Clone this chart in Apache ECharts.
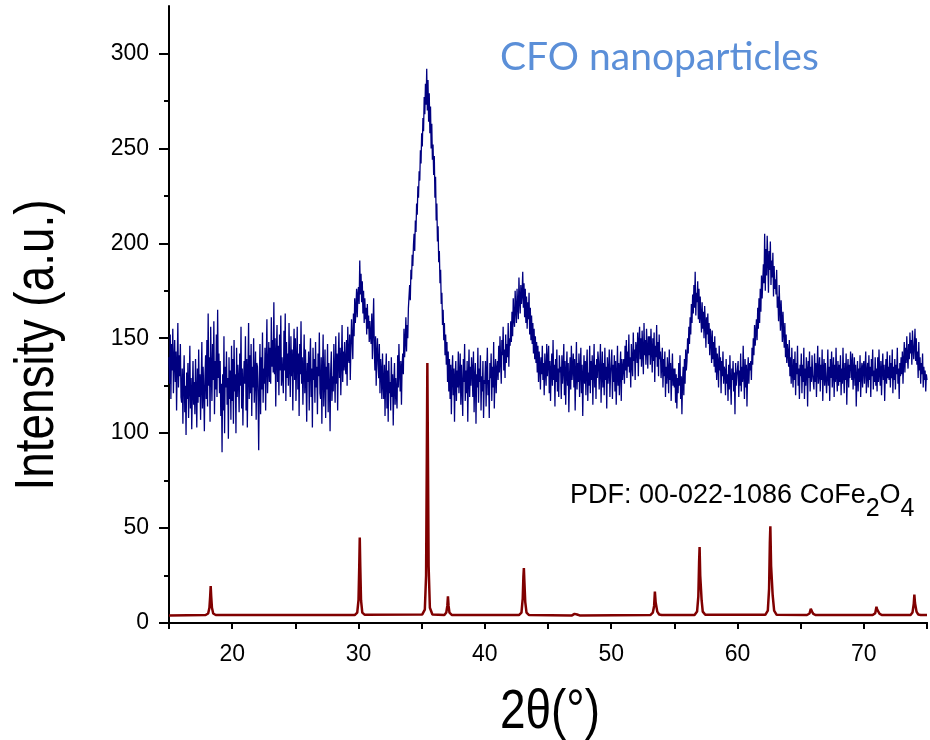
<!DOCTYPE html>
<html><head><meta charset="utf-8">
<script src="https://cdn.jsdelivr.net/npm/echarts@6/dist/echarts.min.js"></script>
<style>html,body{margin:0;padding:0;background:#fff}#c{width:930px;height:740px}</style>
</head><body><div id="c"></div>
<script>
// ---- data ----
const scanStart = 15;      // 2theta of first point
const scanStep = 0.05;     // 2theta step of measured scan
const cfoIntensity = [
140,126,152,118,147,133,155,121,138,149,127,143,112,136,158,124,141,130,147,119,
116,134,105,128,141,111,125,99,132,118,137,108,124,146,113,129,102,121,138,115,
127,110,139,121,103,134,116,144,119,131,107,126,148,113,135,122,101,130,141,118,
149,114,163,125,140,106,156,131,117,147,128,159,110,138,123,152,119,165,129,142,
121,138,109,126,90,131,112,151,100,135,124,143,115,129,97,140,118,133,107,146,
117,139,105,149,122,131,100,145,119,136,128,111,142,125,156,113,134,104,127,138,
126,151,112,139,103,132,158,118,141,121,147,109,135,124,150,116,129,143,107,137,
135,119,91,128,147,110,140,123,153,116,134,126,145,112,138,160,121,133,148,127,
145,126,161,135,149,132,169,131,150,114,141,157,127,146,120,152,133,162,125,140,
139,121,154,133,163,117,148,129,142,125,158,136,119,151,130,144,112,139,155,128,
150,117,138,156,123,142,109,147,131,159,126,140,115,133,152,121,144,129,106,137,
127,143,112,137,150,119,134,103,145,128,139,116,148,124,135,110,142,130,153,121,
118,140,105,132,152,114,129,144,108,135,123,147,111,137,126,101,133,143,117,130,
122,147,131,116,151,126,142,112,139,153,129,145,120,138,157,127,143,133,148,136,
131,149,125,156,140,137,152,128,146,160,149,139,163,151,171,158,166,176,161,173,
177,168,191,173,184,169,180,163,175,158,171,160,166,152,168,155,162,148,159,151,
147,163,139,156,171,144,133,151,125,142,150,136,129,147,121,139,133,118,142,126,
118,136,109,130,142,113,133,106,138,121,127,112,140,119,131,104,126,137,115,129,
130,113,141,124,147,132,122,138,115,135,142,131,155,140,148,161,143,157,150,166,
165,178,170,186,181,194,188,199,205,196,212,206,221,215,230,224,238,233,249,242,
258,251,266,259,277,268,284,273,292,270,286,264,279,258,272,250,263,244,252,236,
246,224,235,212,221,201,209,190,196,179,186,168,174,157,165,149,158,141,152,136,
148,127,143,122,139,118,136,110,131,141,120,134,106,129,138,117,133,124,143,121,
129,142,115,136,124,109,139,127,147,117,133,121,138,106,130,144,119,135,125,140,
133,119,143,111,129,137,105,131,124,145,116,134,127,141,112,130,122,138,108,128,
126,138,114,132,145,120,128,108,137,129,142,117,135,124,148,113,131,139,121,134,
138,128,146,132,151,138,126,149,141,156,133,144,129,152,137,147,140,158,135,150,
146,159,148,164,151,171,160,156,175,165,158,176,167,160,182,170,163,178,168,173,
185,166,179,161,176,158,172,155,169,160,174,152,166,149,162,147,158,142,155,139,
151,137,148,132,146,127,143,136,123,140,131,146,128,137,120,142,133,125,147,130,
130,146,121,138,117,133,142,125,149,128,136,114,139,127,144,122,134,119,141,132,
135,118,141,126,134,147,120,138,115,132,143,125,137,111,129,140,123,146,128,134,
142,124,139,112,131,148,123,137,127,142,119,133,145,121,136,109,130,141,126,138,
120,135,144,117,132,125,146,121,138,128,141,115,133,147,124,136,118,139,129,143,
138,123,134,147,116,131,143,124,137,120,145,128,135,113,140,126,132,144,119,131,
132,144,118,136,127,141,122,138,115,130,146,125,137,120,134,143,117,139,128,135,
139,126,146,133,149,129,143,135,152,132,140,124,147,137,130,153,138,144,128,148,
145,137,153,130,148,156,139,150,135,154,143,131,158,141,149,136,155,144,134,151,
141,151,136,155,144,132,150,138,153,127,146,140,157,135,148,130,152,139,143,129,
136,145,124,139,130,143,119,135,126,140,133,121,144,128,137,117,131,142,125,134,
124,134,116,131,113,129,121,137,125,141,118,130,110,127,135,120,139,126,144,133,
138,150,142,156,147,161,152,168,158,173,163,178,166,185,162,174,169,180,160,176,
158,172,162,153,169,155,164,150,167,158,145,161,152,163,147,158,141,155,149,137,
154,139,148,135,151,132,145,128,142,137,124,146,133,140,121,138,130,143,126,135,
133,120,139,126,131,117,136,123,141,127,115,134,128,138,122,132,110,137,125,130,
129,138,119,133,125,142,122,135,127,146,131,118,139,124,136,114,132,140,126,137,
133,138,128,145,136,150,141,157,146,153,160,149,166,155,171,158,176,164,183,171,
170,189,179,205,175,197,183,204,192,174,196,186,201,178,191,182,195,172,188,176,
181,173,186,166,172,159,178,165,154,170,160,148,164,153,145,158,140,152,137,147,
142,135,149,130,140,126,145,132,124,139,128,143,120,137,131,146,125,134,118,136,
130,142,121,136,127,145,118,134,125,140,133,114,138,129,143,122,135,127,141,131,
132,123,142,127,137,119,134,146,126,131,140,122,136,128,144,117,133,139,125,137,
137,121,130,144,125,135,117,139,129,143,124,132,140,119,136,127,145,130,122,138,
125,136,127,141,120,134,126,145,130,121,137,128,142,115,133,139,124,136,129,143,
136,128,142,123,133,140,125,136,114,130,138,122,134,127,141,119,132,137,124,135,
138,126,134,143,121,132,137,124,141,128,135,119,139,130,144,123,133,127,140,125,
134,122,140,127,144,131,125,138,120,133,142,128,136,117,131,139,126,143,129,135,
128,141,124,137,129,144,121,135,128,139,123,136,131,145,126,134,118,137,130,140,
131,143,126,138,148,132,145,137,151,140,134,147,139,153,142,149,136,154,145,139,
146,155,138,150,136,143,129,148,133,140,126,137,131,142,124,135,128,133,122,131,
128
];
const pdfTheta = [
15,
17.9,18.1,18.2,18.26,18.3,18.34,18.4,18.5,18.7,
29.7,29.9,30.0,30.06,30.1,30.14,30.2,30.3,30.5,
35.05,35.25,35.35,35.41,35.45,35.49,35.55,35.65,35.85,
36.8,36.95,37.03,37.08,37.13,37.2,37.4,
42.7,42.9,43.0,43.05,43.09,43.13,43.2,43.3,43.5,
46.9,47.1,47.2,47.3,47.5,
53.1,53.3,53.4,53.46,53.52,53.58,53.65,53.8,54.0,
56.6,56.8,56.9,56.96,57.0,57.05,57.1,57.16,57.25,57.45,
62.2,62.4,62.5,62.56,62.6,62.66,62.72,62.78,62.9,63.1,
65.5,65.7,65.8,65.85,65.9,66.0,66.2,
70.7,70.9,71.0,71.06,71.12,71.25,71.45,
73.7,73.85,73.95,74.0,74.05,74.1,74.17,74.3,74.5,
75
];
const pdfIntensity = [
4,
4.2,5,8,14,19.5,14,8,5,4.2,
4.2,5.5,12,30,45,30,12,5.5,4.3,
4.5,7,25,90,137,95,30,8,4.5,
4.2,5.5,9,14,9,5.5,4.2,
4.2,5.5,13,24,29,22,11,5.5,4.2,
4,4.8,5,4.5,4,
4.2,5.5,9,16.5,11,10.5,6,4.5,4.2,
4.2,6,14,32,40,25,24,12,6,4.3,
4.3,6.5,18,42,51,30,30,15,6.5,4.3,
4.2,5,7.5,6.5,6,4.8,4.2,
4.2,5.2,8.5,7,6,4.8,4.2,
4.2,5.5,10,15,10.5,10,6,4.5,4.2,
4.2
];
const xMin = 15, xMax = 75, xTickStep = 5;
const xLabelValues = [20, 30, 40, 50, 60, 70];
const yMin = 0, yMax = 325;
const yMajorTicks = [0, 50, 100, 150, 200, 250, 300];
const yMinorTicks = [25, 75, 125, 175, 225, 275];
const yTitle = 'Intensity (a.u.)';
const xTitle = '2θ(°)';
const sampleLabel = 'CFO nanoparticles';
const refLabelMain = 'PDF: 00-022-1086 CoFe';
const refLabelParts = ['2', 'O', '4'];

// ---- build ----
const cfoSeries = cfoIntensity.map((v, i) => [+(scanStart + i * scanStep).toFixed(2), v]);
const pdfSeries = pdfTheta.map((t, i) => [t, pdfIntensity[i]]);

const ctx = document.createElement('canvas').getContext('2d');
function tw(t, f) { ctx.font = f; return ctx.measureText(t).width; }

const FONT = '"Liberation Sans", Arial, sans-serif';
const refFont = '27px ' + FONT;
const subFont = '25px ' + FONT;
const refX = 570, refY = 496;
const w0 = tw(refLabelMain, refFont);
const w1 = tw(refLabelParts[0], subFont);
const w2 = tw(refLabelParts[1], refFont);

function txt(x, y, text, font, extra) {
  return Object.assign({type: 'text', x: x, y: y,
    style: {text: text, font: font, fill: '#000', align: 'left', verticalAlign: 'middle', textAlign: 'left', textVerticalAlign: 'middle'}}, extra || {});
}

const chart = echarts.init(document.getElementById('c'), null, {renderer: 'canvas'});
chart.setOption({
  animation: false,
  backgroundColor: '#fff',
  grid: {left: 169, top: 6, width: 763, height: 617, containLabel: false},
  xAxis: [{
    type: 'value', min: xMin, max: xMax, interval: xTickStep, position: 'bottom',
    axisLine: {lineStyle: {color: '#000', width: 2}},
    axisTick: {inside: false, length: 6, lineStyle: {color: '#000', width: 2}},
    axisLabel: {margin: 20, color: '#000', fontSize: 23, fontFamily: FONT,
      formatter: v => xLabelValues.includes(v) ? String(v) : ''},
    splitLine: {show: false}
  }, {
    type: 'value', min: xMin, max: xMax, interval: xTickStep, position: 'top',
    axisLine: {lineStyle: {color: '#000', width: 2}},
    axisTick: {inside: true, length: 3, lineStyle: {color: '#000', width: 1.5}},
    axisLabel: {show: false}, splitLine: {show: false}
  }],
  yAxis: [{
    type: 'value', min: yMin, max: yMax, position: 'left',
    axisLine: {show: true, lineStyle: {color: '#000', width: 2}},
    axisTick: {show: true, length: 10, customValues: yMajorTicks, lineStyle: {color: '#000', width: 2}},
    axisLabel: {margin: 20, color: '#000', fontSize: 23, fontFamily: FONT, customValues: yMajorTicks},
    splitLine: {show: false}
  }, {
    type: 'value', min: yMin, max: yMax, position: 'left',
    axisLine: {show: false},
    axisTick: {show: true, length: 5, customValues: yMinorTicks, lineStyle: {color: '#000', width: 2}},
    axisLabel: {show: false, customValues: yMinorTicks},
    splitLine: {show: false}
  }],
  series: [{
    type: 'line', data: pdfSeries, xAxisIndex: 0, yAxisIndex: 0,
    showSymbol: false, symbol: 'none', smooth: false,
    lineStyle: {color: '#800000', width: 2.5}, z: 2
  }, {
    type: 'line', data: cfoSeries, xAxisIndex: 0, yAxisIndex: 0,
    showSymbol: false, symbol: 'none', smooth: false,
    lineStyle: {color: '#000080', width: 1.3}, z: 3
  }],
  graphic: [
    {type: 'text', x: 38, y: 345, rotation: Math.PI / 2, scaleX: 0.82,
      style: {text: yTitle, font: '56px ' + FONT, fill: '#000', align: 'center', verticalAlign: 'middle', textAlign: 'center', textVerticalAlign: 'middle'}},
    {type: 'text', x: 550, y: 713, scaleX: 0.82,
      style: {text: xTitle, font: '56px ' + FONT, fill: '#000', align: 'center', verticalAlign: 'middle', textAlign: 'center', textVerticalAlign: 'middle'}},
    {type: 'text', x: 500, y: 57,
      style: {text: sampleLabel, font: '39px Lato, "Open Sans", sans-serif', fill: '#5b8fd8', align: 'left', verticalAlign: 'middle', textAlign: 'left', textVerticalAlign: 'middle'}},
    txt(refX, refY, refLabelMain, refFont),
    txt(refX + w0, refY + 13, refLabelParts[0], subFont),
    txt(refX + w0 + w1, refY, refLabelParts[1], refFont),
    txt(refX + w0 + w1 + w2, refY + 13, refLabelParts[2], subFont)
  ]
});
</script></body></html>
